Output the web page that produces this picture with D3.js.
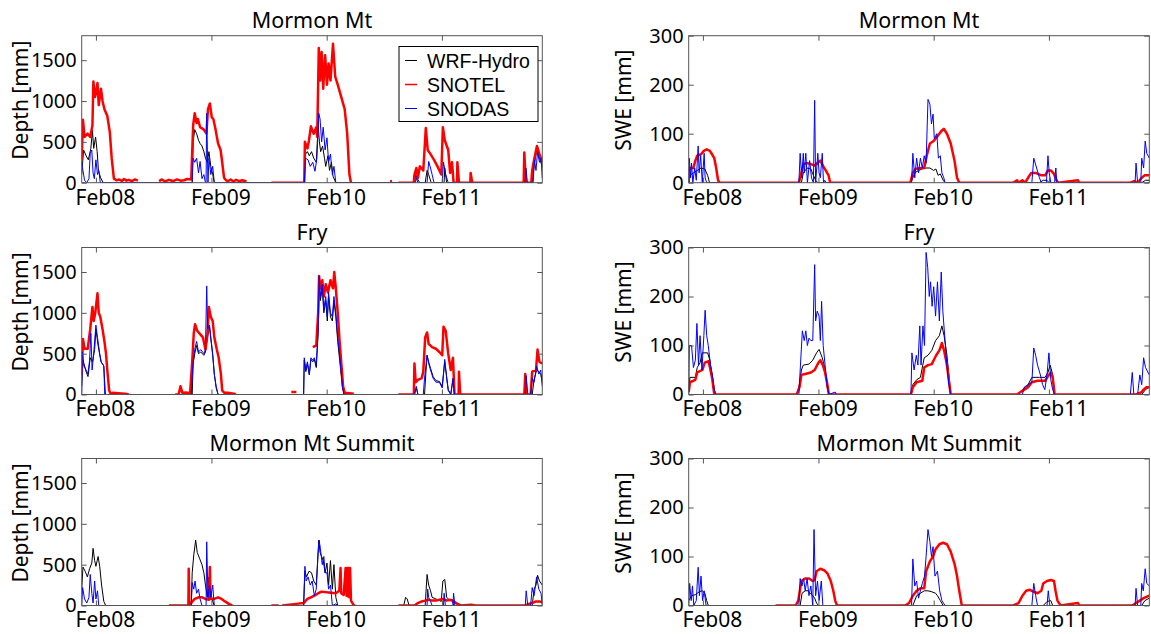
<!DOCTYPE html>
<html>
<head>
<meta charset="utf-8">
<script src="https://cdn.jsdelivr.net/npm/d3@7"></script>
<style>
body { margin: 0; background: #fff; }
text { font-family: "Noto Sans", sans-serif; fill: #000; }
</style>
</head>
<body>
<div id="chart"></div>
<script>
// x values are days counted from 1 Jan 2008, null marks a gap in the record
var stations = ["Mormon Mt", "Fry", "Mormon Mt Summit"];
var seriesNames = ["WRF-Hydro", "SNOTEL", "SNODAS"];
var depthTicks = [0, 500, 1000, 1500];
var sweTicks = [0, 100, 200, 300];
var monthTicks = ["2008-02-01", "2009-02-01", "2010-02-01", "2011-02-01"];
var firstDay = -14, lastDay = 1445;

// Mormon Mt, snow depth [mm]
var mormonDepthWrf = [[-14,100],[-8,400],[0,330],[7,280],[15,420],[20,640],[24,420],[30,560],[35,380],[39,150],[46,60],[54,0],[336,0],[339,500],[344,650],[350,600],[356,520],[361,480],[367,450],[373,380],[378,300],[384,250],[389,380],[395,200],[401,100],[406,0],[691,0],[695,350],[701,380],[707,330],[714,380],[721,300],[729,250],[735,700],[739,500],[743,380],[749,450],[755,300],[759,200],[766,330],[771,150],[777,250],[782,80],[791,0],[1040,0],[1044,100],[1049,50],[1057,0],[1074,0],[1080,150],[1085,100],[1093,0],[1134,0],[1136,180],[1142,0],[1413,0],[1419,200],[1428,420],[1436,300],[1445,200]];
var mormonDepthSnotel = [[-14,280],[-10,770],[-5,560],[5,600],[13,560],[20,700],[23,1240],[28,1050],[31,1100],[36,1220],[40,950],[47,1150],[52,1000],[58,900],[67,820],[75,620],[81,300],[88,50],[96,30],[105,40],[113,20],[120,45],[128,25],[135,35],[145,20],[155,40],[164,25],null,
  [231,20],[240,40],[250,15],[262,35],[275,20],[288,40],[299,25],[310,30],[320,45],[333,40],[339,700],[344,850],[350,730],[354,780],[361,680],[373,650],[381,600],[386,900],[392,970],[398,800],[403,780],[410,650],[418,480],[426,400],[431,250],[437,60],[443,30],[450,20],[458,40],[466,15],[475,35],[485,20],[495,30],[508,15],null,
  [587,0],[691,0],[693,500],[701,420],[706,520],[712,690],[721,600],[729,680],[732,560],[737,1650],[741,1250],[746,1600],[751,1150],[757,1560],[763,1200],[768,1460],[774,1250],[782,1700],[789,1300],[797,1200],[808,1050],[819,900],[827,600],[834,100],[839,0],null,
  [963,15],[969,20],null,
  [989,0],[1038,0],[1040,100],[1046,180],[1051,60],[1057,200],[1068,150],[1076,670],[1082,400],[1091,350],[1102,280],[1113,200],[1125,100],[1130,680],[1136,520],[1147,400],[1153,120],[1159,250],[1164,0],[1175,0],[1176,250],[1181,0],[1217,0],[1218,120],[1223,0],[1386,0],[1388,370],[1393,0],[1410,0],[1413,150],[1419,280],[1428,450],[1436,350],[1445,250]];
var mormonDepthSnodas = [[-14,250],[-10,150],[-5,30],[2,0],[9,50],[13,360],[18,400],[22,120],[26,50],[31,280],[36,100],[40,150],[45,0],[336,0],[339,300],[344,250],[350,300],[356,120],[361,260],[367,50],[373,100],[378,0],[380,0],[382,850],[386,0],[389,300],[395,100],[401,200],[406,0],[691,0],[695,300],[703,280],[710,200],[718,250],[725,140],[731,300],[737,850],[741,780],[746,500],[751,680],[757,400],[763,550],[768,250],[774,350],[780,100],[785,200],[791,0],[1043,0],[1046,60],[1051,0],[1080,0],[1085,260],[1091,180],[1096,100],[1102,0],[1128,0],[1132,250],[1139,100],[1147,0],[1391,0],[1393,180],[1398,0],[1416,0],[1420,280],[1425,150],[1430,380],[1436,250],[1441,300],[1445,50]];

// Mormon Mt, SWE [mm]
var mormonSweWrf = [[-14,0],[-11,15],[1,20],[13,25],[25,30],[37,28],[46,15],[52,0],[343,0],[349,20],[361,30],[373,28],[381,15],[388,5],[395,0],[690,0],[702,20],[714,25],[726,28],[738,30],[750,30],[762,25],[769,28],[776,15],[783,18],[792,5],[798,0],[1097,0],[1109,5],[1121,5],[1127,0],[1421,0],[1433,5],[1445,5]];
var mormonSweSnotel = [[-14,0],[-11,30],[1,30],[7,45],[13,55],[25,58],[34,65],[43,68],[53,65],[60,58],[67,50],[73,30],[79,5],[84,0],[335,0],[343,20],[349,38],[361,40],[373,38],[385,35],[397,42],[403,45],[411,35],[420,25],[429,15],[434,0],[688,0],[696,20],[704,28],[720,30],[732,30],[740,55],[750,80],[762,85],[774,95],[786,105],[794,110],[804,100],[816,80],[828,45],[836,10],[843,0],[1014,0],[1026,5],[1031,0],[1043,5],[1052,0],[1061,10],[1071,20],[1085,20],[1103,15],[1115,15],[1124,25],[1133,25],[1143,18],[1151,5],[1157,0],[1219,5],[1223,0],[1385,0],[1397,3],[1408,0],[1421,10],[1430,15],[1445,15]];
var mormonSweSnodas = [[-14,0],[-12,50],[-8,10],[-5,40],[-1,0],[5,30],[10,5],[16,75],[19,20],[24,55],[29,0],[35,60],[38,10],[43,0],[335,0],[339,60],[344,10],[349,60],[352,20],[357,60],[362,0],[369,45],[375,10],[381,0],[385,168],[388,0],[395,60],[399,20],[403,10],[409,60],[413,0],[417,5],[422,0],[692,0],[696,60],[702,10],[708,50],[714,20],[720,50],[726,30],[732,55],[738,40],[744,170],[750,160],[755,120],[760,140],[764,90],[772,100],[777,50],[783,55],[788,20],[794,10],[798,0],[1073,0],[1079,50],[1088,30],[1097,10],[1103,0],[1119,0],[1124,55],[1128,20],[1133,0],[1145,0],[1149,30],[1152,0],[1400,0],[1403,40],[1408,0],[1418,0],[1421,50],[1427,30],[1432,85],[1437,60],[1445,50]];

// Fry, snow depth [mm]
var fryDepthWrf = [[-14,100],[-10,420],[0,280],[6,220],[13,450],[20,400],[27,550],[31,800],[38,600],[47,400],[56,350],[61,0],[336,0],[339,380],[345,520],[350,600],[356,500],[363,520],[373,480],[378,520],[384,700],[391,820],[395,680],[401,480],[406,250],[412,80],[418,0],[689,0],[691,420],[696,280],[701,380],[707,240],[712,430],[718,400],[723,430],[729,330],[735,750],[738,1400],[742,1150],[748,1300],[753,1000],[759,1150],[764,900],[768,1200],[774,950],[780,900],[785,1150],[791,950],[797,650],[805,350],[812,80],[817,0],[1040,0],[1046,80],[1051,0],[1072,0],[1076,250],[1080,480],[1085,400],[1091,320],[1099,220],[1108,170],[1119,160],[1128,100],[1136,400],[1142,220],[1147,60],[1155,0],[1162,180],[1167,0],[1413,0],[1419,180],[1427,300],[1434,280],[1440,250],[1445,150]];
var fryDepthSnotel = [[-14,250],[-10,680],[-5,560],[5,560],[13,800],[20,1070],[24,900],[29,1000],[36,1240],[40,1000],[45,950],[52,800],[58,650],[63,500],[67,300],[73,50],[79,0],[84,20],[101,15],[124,10],[135,0],null,
  [282,0],[293,0],[299,100],[305,20],[316,25],[327,20],[329,0],[336,400],[341,750],[345,860],[352,780],[361,740],[370,700],[378,550],[384,720],[389,1070],[395,950],[401,900],[406,700],[414,550],[420,450],[427,250],[431,50],[438,20],[452,20],[469,10],[474,0],null,
  [650,30],[666,30],null,
  [718,580],[729,600],[735,1000],[738,1450],[742,1300],[748,1400],[753,1200],[759,1350],[766,1250],[774,1400],[782,1300],[786,1500],[791,1300],[797,1000],[802,700],[808,400],[814,100],[819,20],[848,10],null,
  [989,0],[1038,0],[1040,380],[1044,150],[1051,180],[1063,200],[1068,280],[1074,700],[1080,760],[1085,620],[1096,580],[1108,560],[1119,520],[1128,480],[1132,830],[1139,780],[1147,500],[1155,300],[1162,450],[1167,0],[1180,0],[1181,280],[1185,0],[1388,0],[1391,250],[1395,0],[1408,0],[1413,280],[1425,300],[1430,550],[1436,400],[1445,380]];
var fryDepthSnodas = [[-14,0],[-12,520],[-7,350],[0,300],[6,250],[11,420],[15,750],[19,300],[24,500],[31,850],[36,700],[43,500],[48,400],[56,350],[59,0],[333,0],[339,400],[344,550],[350,650],[356,520],[363,550],[373,500],[378,550],[382,1330],[385,800],[391,850],[395,700],[401,500],[406,250],[412,100],[418,0],[689,0],[691,450],[696,300],[701,400],[707,250],[712,450],[718,420],[723,450],[729,350],[735,800],[738,1450],[742,1200],[748,1350],[753,1050],[759,1200],[764,950],[768,1250],[774,1000],[780,950],[785,1200],[791,1000],[797,700],[805,400],[812,100],[817,0],[1040,0],[1046,100],[1051,0],[1068,0],[1072,200],[1080,480],[1085,380],[1091,300],[1099,200],[1108,150],[1119,150],[1128,80],[1136,430],[1142,200],[1147,50],[1155,0],[1162,200],[1167,0],[1391,0],[1394,230],[1399,0],[1408,0],[1413,200],[1419,150],[1427,350],[1434,250],[1440,300],[1445,100]];

// Fry, SWE [mm]
var frySweWrf = [[-14,10],[-10,35],[7,35],[13,55],[22,65],[29,85],[46,85],[53,70],[60,40],[67,10],[72,0],[328,0],[337,20],[343,50],[349,60],[367,62],[379,70],[391,85],[399,92],[409,75],[415,60],[420,40],[426,10],[431,0],[690,0],[696,20],[708,30],[720,35],[732,75],[744,80],[756,90],[768,110],[780,120],[788,140],[795,120],[804,80],[810,40],[816,0],[1031,0],[1043,10],[1061,20],[1073,35],[1097,35],[1115,35],[1124,45],[1131,60],[1139,40],[1145,0],[1421,0],[1433,10],[1445,15]];
var frySweSnotel = [[-14,5],[-10,25],[7,30],[13,45],[29,50],[37,65],[49,68],[55,50],[61,30],[67,0],[328,0],[337,15],[343,40],[355,42],[373,45],[385,50],[397,65],[403,70],[411,60],[418,45],[424,25],[430,0],[690,0],[696,15],[708,25],[726,28],[732,55],[744,60],[756,62],[762,70],[770,80],[780,90],[788,105],[795,90],[804,60],[810,30],[816,0],[1026,0],[1037,5],[1049,10],[1061,15],[1073,25],[1091,28],[1115,28],[1127,40],[1133,45],[1139,35],[1145,0],[1403,0],[1421,5],[1427,10],[1436,15],[1445,15]];
var frySweSnodas = [[-14,0],[-12,100],[-5,100],[1,55],[7,70],[12,145],[17,60],[22,120],[28,50],[34,120],[38,172],[43,120],[48,100],[55,60],[61,40],[67,10],[72,0],[335,0],[340,60],[346,130],[352,110],[357,130],[362,100],[367,115],[373,110],[379,110],[385,265],[388,150],[393,170],[399,160],[403,110],[407,190],[412,100],[418,60],[424,20],[430,0],[450,5],[454,0],[690,0],[693,85],[700,50],[707,80],[712,60],[718,140],[722,60],[728,140],[733,100],[738,290],[743,260],[748,200],[752,230],[757,180],[762,220],[768,160],[774,230],[780,150],[786,250],[791,170],[798,110],[804,60],[810,20],[816,0],[1043,0],[1049,15],[1061,20],[1073,25],[1079,95],[1085,80],[1091,60],[1100,40],[1107,20],[1114,10],[1121,40],[1127,85],[1133,30],[1139,10],[1145,0],[1385,0],[1391,45],[1396,0],[1408,0],[1415,40],[1421,20],[1427,75],[1433,55],[1445,40]];

// Mormon Mt Summit, snow depth [mm]
var summitDepthWrf = [[-14,200],[-10,470],[-3,420],[4,350],[11,450],[18,520],[22,700],[27,550],[31,480],[38,600],[43,480],[49,250],[56,50],[62,0],[333,0],[336,400],[341,620],[347,800],[352,650],[359,580],[367,500],[373,400],[378,250],[384,100],[389,350],[395,150],[401,50],[406,0],[689,0],[693,420],[698,350],[706,420],[714,400],[721,300],[729,250],[737,800],[741,650],[746,600],[751,550],[757,400],[763,520],[768,250],[774,550],[780,200],[785,500],[791,100],[797,0],[1006,0],[1012,100],[1017,80],[1023,0],[1074,0],[1080,380],[1085,250],[1091,180],[1096,100],[1108,80],[1125,50],[1130,300],[1136,320],[1142,100],[1153,60],[1159,80],[1164,0],[1413,0],[1419,200],[1425,250],[1430,370],[1436,300],[1445,250]];
var summitDepthSnotel = [null,[262,0],[324,0],[325,450],[327,0],[333,30],[339,60],[344,80],[356,100],[367,100],[378,80],[389,70],[392,470],[394,80],[406,80],[418,100],[429,80],[440,50],[452,20],[463,0],null,
  [587,0],[610,0],null,
  [621,0],[666,20],[689,30],[701,80],[712,100],[723,120],[735,150],[746,170],[768,160],[791,150],[802,180],[806,460],[808,150],[816,130],[822,460],[825,120],[827,460],[830,110],[832,460],[834,100],[836,460],[839,60],[845,20],[850,0],null,
  [989,0],[1040,0],[1051,30],[1063,50],[1074,60],[1085,70],[1096,60],[1108,60],[1119,70],[1130,80],[1142,60],[1153,70],[1164,50],[1176,20],[1187,0],[1221,10],[1232,0],[1391,0],[1402,20],[1413,30],[1425,50],[1436,50],[1445,40]];
var summitDepthSnodas = [[-14,0],[-11,220],[-5,80],[2,30],[9,100],[13,380],[18,150],[22,30],[27,300],[31,80],[36,180],[40,0],[333,0],[336,280],[341,200],[345,300],[350,150],[356,200],[361,80],[367,0],[380,0],[382,780],[386,100],[391,250],[395,100],[401,250],[406,0],[689,0],[693,480],[697,300],[703,350],[710,250],[716,300],[723,120],[729,200],[735,650],[738,800],[742,700],[748,500],[753,600],[757,400],[763,400],[768,200],[774,250],[780,0],[791,20],[797,0],[1080,0],[1082,200],[1085,100],[1091,50],[1096,0],[1132,0],[1134,150],[1138,0],[1162,0],[1164,150],[1168,0],[1391,0],[1394,180],[1399,0],[1408,0],[1413,220],[1419,120],[1427,350],[1434,200],[1441,150],[1445,0]];

// Mormon Mt Summit, SWE [mm]
var summitSweWrf = [[-14,10],[-5,20],[7,22],[19,28],[29,30],[37,25],[43,10],[48,0],[339,0],[345,25],[355,30],[364,30],[371,25],[379,20],[385,15],[391,5],[397,0],[696,0],[708,20],[720,25],[732,30],[744,30],[756,28],[768,25],[774,20],[783,10],[792,0],[1109,0],[1121,8],[1133,10],[1139,0],[1421,0],[1431,10],[1445,15]];
var summitSweSnotel = [null,[261,0],[325,0],[333,10],[343,50],[355,55],[367,55],[379,50],[385,52],[391,70],[403,75],[415,72],[426,65],[436,50],[444,30],[450,10],[456,0],[672,0],[684,5],[696,20],[708,30],[720,35],[732,35],[738,70],[750,90],[760,100],[768,115],[780,125],[792,128],[804,125],[816,110],[828,85],[836,60],[843,30],[851,0],[1014,0],[1031,5],[1043,20],[1055,30],[1067,32],[1079,28],[1091,25],[1103,30],[1109,45],[1121,50],[1133,52],[1143,50],[1148,30],[1154,10],[1164,0],[1219,5],[1223,0],[1391,0],[1403,5],[1415,10],[1427,15],[1445,20]];
var summitSweSnodas = [[-14,0],[-11,45],[-6,10],[-2,40],[2,0],[10,10],[16,78],[20,20],[25,60],[30,10],[35,30],[41,0],[335,0],[339,55],[345,40],[350,55],[355,30],[361,55],[367,20],[373,40],[379,0],[383,155],[388,20],[394,50],[399,10],[406,50],[411,0],[692,0],[696,95],[702,40],[708,50],[714,15],[720,30],[726,45],[733,60],[738,100],[744,155],[750,130],[755,100],[760,120],[766,60],[774,70],[781,30],[788,10],[798,0],[1073,0],[1079,45],[1085,20],[1091,0],[1121,0],[1125,30],[1130,0],[1400,0],[1403,35],[1408,0],[1418,0],[1421,45],[1426,30],[1432,75],[1437,45],[1445,40]];

var fullwidth = 1151,
    fullheight = 634,
    colLeft = [81.7, 688.7],
    rowTop = [35.7, 247.5, 458.5],
    width = 460.6,
    height = 147;

var lineStyle = [
    {color: "#000000", width: 1},
    {color: "#ff0000", width: 2.5},
    {color: "#0000ff", width: 1}
];

var base = new Date(2008, 0, 1);
function dayToDate(d) { return d3.timeDay.offset(base, d); }

var panels = [
    {row: 0, col: 0, title: stations[0], ylabel: "Depth [mm]", ymax: 1800, ticks: depthTicks, data: [mormonDepthWrf, mormonDepthSnotel, mormonDepthSnodas], legend: true},
    {row: 0, col: 1, title: stations[0], ylabel: "SWE [mm]", ymax: 300, ticks: sweTicks, data: [mormonSweWrf, mormonSweSnotel, mormonSweSnodas]},
    {row: 1, col: 0, title: stations[1], ylabel: "Depth [mm]", ymax: 1800, ticks: depthTicks, data: [fryDepthWrf, fryDepthSnotel, fryDepthSnodas]},
    {row: 1, col: 1, title: stations[1], ylabel: "SWE [mm]", ymax: 300, ticks: sweTicks, data: [frySweWrf, frySweSnotel, frySweSnodas]},
    {row: 2, col: 0, title: stations[2], ylabel: "Depth [mm]", ymax: 1800, ticks: depthTicks, data: [summitDepthWrf, summitDepthSnotel, summitDepthSnodas]},
    {row: 2, col: 1, title: stations[2], ylabel: "SWE [mm]", ymax: 300, ticks: sweTicks, data: [summitSweWrf, summitSweSnotel, summitSweSnodas]}
];

var svg = d3.select("#chart")
    .append("svg")
    .attr("width", fullwidth)
    .attr("height", fullheight);

svg.append("rect")
    .attr("width", fullwidth)
    .attr("height", fullheight)
    .attr("fill", "#fff");

var xScale = d3.scaleTime()
    .domain([dayToDate(firstDay), dayToDate(lastDay)])
    .range([0, width]);

var xTickDates = monthTicks.map(function(s) { return d3.timeParse("%Y-%m-%d")(s); });

panels.forEach(function(p, i) { makePanel(p, i); });

function makePanel(p, i) {
    var g = svg.append("g")
        .attr("transform", "translate(" + colLeft[p.col] + "," + rowTop[p.row] + ")");

    var yScale = d3.scaleLinear()
        .domain([0, p.ymax])
        .range([height, 0]);

    g.append("clipPath")
        .attr("id", "clip" + i)
        .append("rect")
        .attr("width", width)
        .attr("height", height);

    var line = d3.line()
        .defined(function(d) { return d !== null; })
        .x(function(d) { return xScale(dayToDate(d[0])); })
        .y(function(d) { return yScale(d[1]); });

    var lines = g.append("g").attr("clip-path", "url(#clip" + i + ")");
    p.data.forEach(function(series, k) {
        lines.append("path")
            .datum(series)
            .attr("fill", "none")
            .attr("stroke", lineStyle[k].color)
            .attr("stroke-width", lineStyle[k].width)
            .attr("stroke-linejoin", "round")
            .attr("d", line);
    });

    // axes, ticks pointing inward like the original
    var yAxis = d3.axisLeft(yScale).tickValues(p.ticks).tickSize(-5).tickSizeOuter(0).tickPadding(5)
        .tickFormat(d3.format("d"));
    var yAxisR = d3.axisRight(yScale).tickValues(p.ticks).tickSize(-5).tickSizeOuter(0).tickFormat("");
    var xAxis = d3.axisBottom(xScale).tickValues(xTickDates).tickSize(-5).tickSizeOuter(0).tickPadding(7)
        .tickFormat(d3.timeFormat("%b%y"));
    var xAxisT = d3.axisTop(xScale).tickValues(xTickDates).tickSize(-5).tickSizeOuter(0).tickFormat("");

    var yEle = g.append("g").classed("y axis", true).call(yAxis);
    g.append("g").attr("transform", "translate(" + width + ",0)").call(yAxisR);
    var xEle = g.append("g").classed("x axis", true).attr("transform", "translate(0," + height + ")").call(xAxis);
    g.append("g").call(xAxisT);

    g.selectAll(".domain").remove();
    g.selectAll(".tick line").attr("stroke", "#555");
    yEle.selectAll("text").style("font-size", "20px").style("font-family", "Noto Sans").attr("fill", "#000");
    xEle.selectAll("text").style("font-size", "21px").style("font-family", "Noto Sans").attr("fill", "#000").attr("dx", 9);

    g.append("rect")
        .attr("width", width)
        .attr("height", height)
        .attr("fill", "none")
        .attr("stroke", "#555")
        .attr("stroke-width", 1);

    g.append("text")
        .attr("x", width / 2)
        .attr("y", -8)
        .style("text-anchor", "middle")
        .style("font-size", "21.5px")
        .text(p.title);

    var labelGap = p.col === 0 ? 53.5 : 57.7;
    g.append("text")
        .attr("transform", "translate(" + (-labelGap) + "," + (height / 2 - 9) + ")rotate(-90)")
        .style("text-anchor", "middle")
        .style("font-size", "21px")
        .text(p.ylabel);

    if (p.legend) makeLegend(g);
}

function makeLegend(g) {
    var lx = 399 - colLeft[0], ly = 46.5 - rowTop[0];
    var leg = g.append("g").attr("transform", "translate(" + lx + "," + ly + ")");
    leg.append("rect")
        .attr("width", 139)
        .attr("height", 75)
        .attr("fill", "#fff")
        .attr("stroke", "#000")
        .attr("stroke-width", 1);
    seriesNames.forEach(function(name, k) {
        var yy = 14 + k * 24;
        leg.append("line")
            .attr("x1", 6).attr("x2", 18)
            .attr("y1", yy).attr("y2", yy)
            .attr("stroke", lineStyle[k].color)
            .attr("stroke-width", k === 1 ? 1.5 : 1);
        leg.append("text")
            .attr("x", 28)
            .attr("y", yy + 7)
            .style("font-family", "'Liberation Sans', Arial, sans-serif")
            .style("font-size", "19.5px")
            .text(name);
    });
}
</script>
</body>
</html>
